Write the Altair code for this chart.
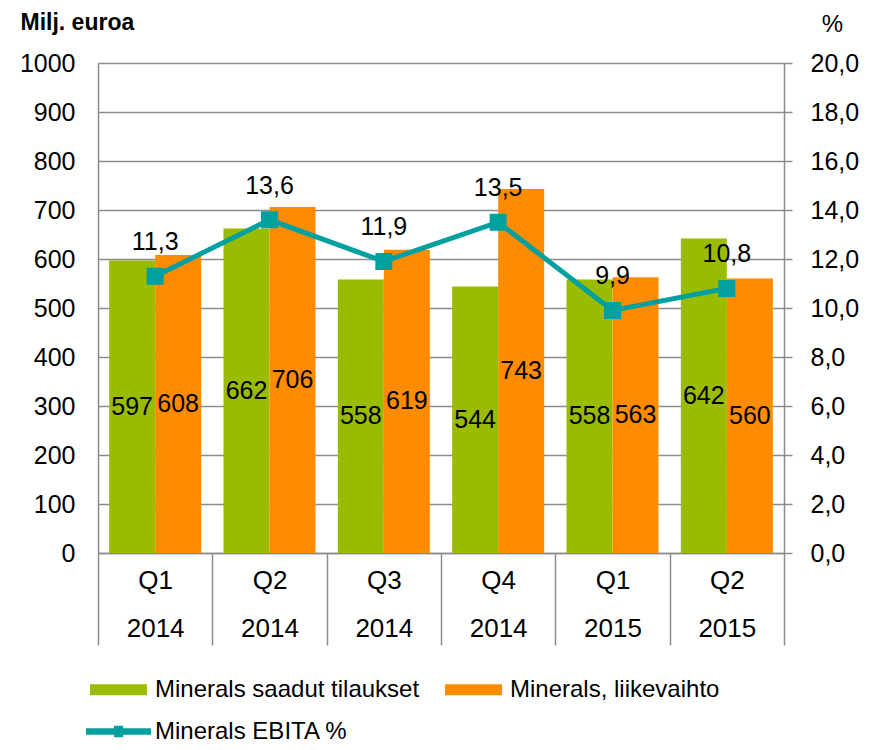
import altair as alt
import pandas as pd

# ---- data ----
quarters = ["Q1", "Q2", "Q3", "Q4", "Q1", "Q2"]
years = ["2014", "2014", "2014", "2014", "2015", "2015"]
orders = [597, 662, 558, 544, 558, 642]          # Minerals saadut tilaukset
revenue = [608, 706, 619, 743, 563, 560]         # Minerals, liikevaihto
ebita = [11.3, 13.6, 11.9, 13.5, 9.9, 10.8]      # Minerals EBITA %

series_names = ["Minerals saadut tilaukset", "Minerals, liikevaihto"]
line_name = "Minerals EBITA %"
left_ticks = list(range(0, 1001, 100))
right_ticks = list(range(0, 21, 2))

# ---- styles ----
FONT = "Liberation Sans"
GREEN = "#99BB00"
ORANGE = "#FF8C00"
TEAL = "#00A0A0"
GRAY = "#8c8c8c"

cats = [f"{q} {y}" for q, y in zip(quarters, years)]
bar_df = pd.DataFrame({
    "cat": cats * 2,
    "series": [series_names[0]] * len(cats) + [series_names[1]] * len(cats),
    "value": orders + revenue,
})
line_df = pd.DataFrame({"cat": cats, "ebita": ebita, "name": [line_name] * len(cats)})

x_enc = alt.X(
    "cat:N", sort=cats,
    scale=alt.Scale(paddingInner=0, paddingOuter=0),
    axis=alt.Axis(
        title=None, labelExpr="split(datum.label, ' ')", labelAngle=0,
        labelFont=FONT, labelFontSize=26, labelColor="black",
        labelLineHeight=48, labelBaseline="top", labelPadding=-78,
        tickBand="extent", ticks=True, tickSize=92, tickColor=GRAY, tickWidth=1.5,
        domainColor=GRAY, domainWidth=1.5,
    ),
)
xoff = alt.XOffset("series:N", sort=series_names,
                   scale=alt.Scale(paddingInner=0, paddingOuter=0.2425))

left_axis = alt.Axis(
    values=left_ticks, format="d", title="Milj. euroa", titleAngle=0,
    titleX=-78, titleY=-34,
    titleAlign="left", titleBaseline="alphabetic", titleFont=FONT,
    titleFontSize=23, titleFontWeight="bold", titleColor="black",
    labelFont=FONT, labelFontSize=25, labelColor="black", labelPadding=23,
    ticks=False, grid=True, gridColor=GRAY, gridWidth=1.5,
    domainColor=GRAY, domainWidth=1.5,
)
left_scale = alt.Scale(domain=[0, 1000], nice=False)

right_axis = alt.Axis(
    orient="right", values=right_ticks,
    labelExpr="replace(format(datum.value, '.1f'), '.', ',')",
    title="%", titleAngle=0, titleX=48, titleY=-32, titleAlign="center",
    titleBaseline="alphabetic", titleFont=FONT, titleFontSize=24,
    titleFontWeight="normal", titleColor="black",
    labelFont=FONT, labelFontSize=25, labelColor="black", labelAlign="left",
    labelPadding=18, grid=False, ticks=True, tickSize=8, tickColor=GRAY,
    tickWidth=1.5, domainColor=GRAY, domainWidth=1.5,
)
right_scale = alt.Scale(domain=[0, 20], nice=False)

bars = alt.Chart(bar_df).mark_bar(strokeWidth=0).encode(
    x=x_enc, xOffset=xoff,
    y=alt.Y("value:Q", scale=left_scale, axis=left_axis),
    color=alt.Color(
        "series:N", sort=series_names,
        scale=alt.Scale(domain=series_names, range=[GREEN, ORANGE]),
        legend=alt.Legend(
            title=None, orient="none", legendX=-8, legendY=598,
            direction="horizontal", columns=2, columnPadding=25, padding=0,
            symbolType="M-1,-0.19H1V0.19H-1Z", symbolSize=3249, symbolStrokeWidth=0,
            labelFont=FONT, labelFontSize=24, labelColor="black", labelOffset=8,
            labelLimit=0,
        ),
    ),
)

bar_labels = alt.Chart(bar_df).transform_calculate(
    mid="datum.value / 2"
).mark_text(font=FONT, fontSize=25, color="black").encode(
    x=x_enc, xOffset=xoff,
    y=alt.Y("mid:Q", scale=left_scale, axis=left_axis),
    text=alt.Text("value:Q"),
)

line = alt.Chart(line_df).mark_line(
    strokeWidth=5,
    point=alt.OverlayMarkDef(shape="square", size=225, filled=True, color=TEAL),
).encode(
    x=x_enc,
    y=alt.Y("ebita:Q", scale=right_scale, axis=right_axis),
    stroke=alt.Stroke(
        "name:N", scale=alt.Scale(domain=[line_name], range=[TEAL]),
        legend=alt.Legend(
            title=None, orient="none", legendX=-12, legendY=636, padding=0,
            symbolType="M-1,-0.1H1V0.1H-1Z M-0.14,-0.18H0.14V0.18H-0.14Z",
            symbolSize=4225, symbolFillColor=TEAL, symbolStrokeWidth=0,
            labelFont=FONT, labelFontSize=24, labelColor="black", labelOffset=4,
            labelLimit=0,
        ),
    ),
)

line_labels = alt.Chart(line_df).transform_calculate(
    lbl="replace(format(datum.ebita, '.1f'), '.', ',')"
).mark_text(font=FONT, fontSize=25, color="black", dy=-34).encode(
    x=x_enc,
    y=alt.Y("ebita:Q", scale=right_scale, axis=right_axis),
    text="lbl:N",
)

chart = alt.layer(
    alt.layer(bars, bar_labels),
    alt.layer(line, line_labels),
).resolve_scale(y="independent").properties(
    width=686, height=490,
    autosize=alt.AutoSizeParams(type="none"),
    padding={"left": 90, "top": 55, "right": 85, "bottom": 189},
).configure_view(stroke=None)

chart.save("out.html", embed_options={"renderer": "svg", "actions": False})
